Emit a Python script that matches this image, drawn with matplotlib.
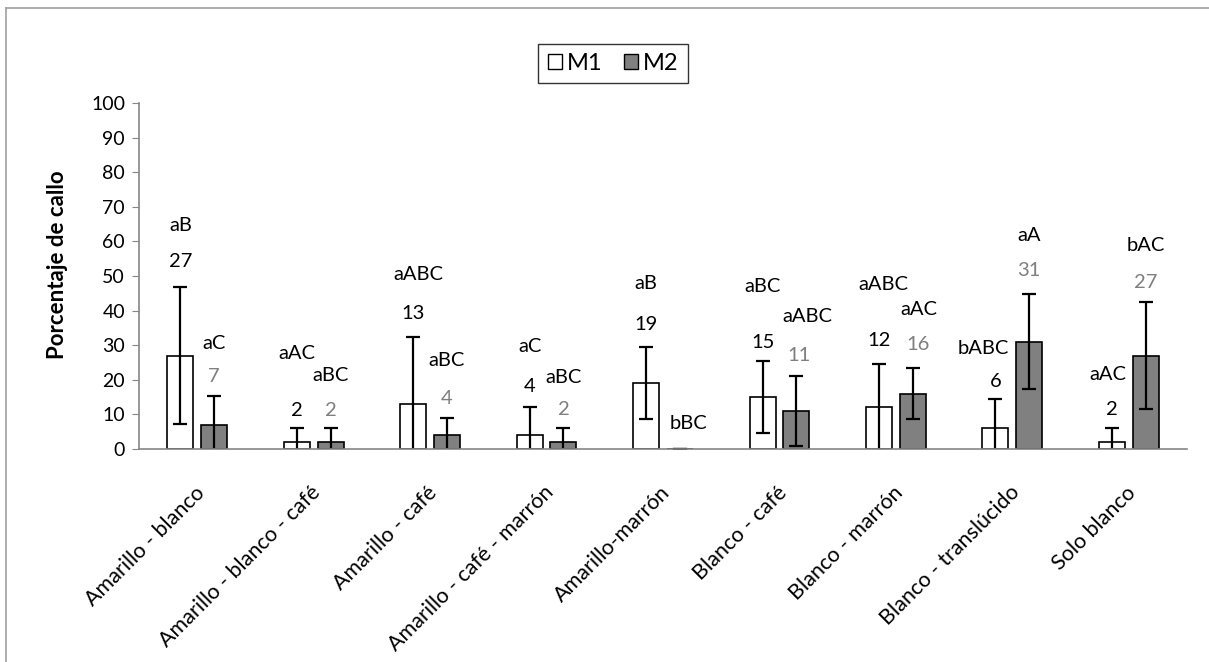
import matplotlib
matplotlib.use("Agg")
import matplotlib.pyplot as plt
from matplotlib.patches import Patch
from matplotlib.lines import Line2D
import matplotlib.transforms as mtransforms
import numpy as np

categories = ["Amarillo - blanco", "Amarillo - blanco - café", "Amarillo - café",
              "Amarillo - café - marrón", "Amarillo-marrón", "Blanco - café",
              "Blanco - marrón", "Blanco - translúcido", "Solo blanco"]
m1_values = [27, 2, 13, 4, 19, 15, 12, 6, 2]
m2_values = [7, 2, 4, 2, 0, 11, 16, 31, 27]
m1_err = [19.7, 4.2, 19.5, 8.2, 10.4, 10.3, 12.5, 8.4, 4.1]
m2_err = [8.3, 4.2, 5.0, 4.1, 0.0, 10.0, 7.4, 13.7, 15.4]
m1_letters = ["aB", "aAC", "aABC", "aC", "aB", "aBC", "aABC", "bABC", "aAC"]
m2_letters = ["aC", "aBC", "aBC", "aBC", "bBC", "aABC", "aAC", "aA", "bAC"]
yticks = [0, 10, 20, 30, 40, 50, 60, 70, 80, 90, 100]

# layout of the manually placed labels (data units / pixel offsets)
m1_num_y = [54.3, 11, 39.2, 18.2, 36.1, 30.8, 31.3, 19.5, 11.3]
m1_let_y = [64.5, 27.7, 50.3, 29.6, 47.9, 47.1, 47.6, 29.1, 21.4]
m2_num_y = [20.9, 11, 14.6, 11.3, None, 26.9, 30.1, 51.5, 48.2]
m2_let_y = [30.5, 21.1, 25.7, 20.6, 7.4, 38.2, 40.2, 61.8, 58.7]
m1_let_dx = [0, 0, 4.7, 0, 0, 0, 4, -12.5, -4]
m2_let_dx = [0, 0, 0, 0, 9, 11, 6, 0, 0]
m2_num_dx = [0, 0, 0, 0, 0, 3, 5, 0, 0]

FONT = ["Lato", "DejaVu Sans"]
plt.rcParams['font.family'] = FONT

W, H = 1209, 662
fig = plt.figure(figsize=(W / 100, H / 100), dpi=100)
ax = fig.add_axes([139 / W, (H - 449) / H, (1187 - 139) / W, (449 - 103) / H])

x = np.arange(len(categories))
bw = 0.223
off = 0.145
px = 9 / 1048.0  # data units per pixel along x

ax.bar(x - off, m1_values, bw, color="white", edgecolor="black", linewidth=1.2, zorder=2, label="M1")
ax.bar(x + off, m2_values, bw, color="#808080", edgecolor="black", linewidth=1.2, zorder=2, label="M2")
ax.errorbar(x - off, m1_values, yerr=m1_err, fmt="none", ecolor="black", elinewidth=1.6,
            capsize=4.8, capthick=1.6, zorder=3)
ax.errorbar(x + off, m2_values, yerr=m2_err, fmt="none", ecolor="black", elinewidth=1.6,
            capsize=4.8, capthick=1.6, zorder=3)

fs = 14.5
for i in range(len(categories)):
    ax.text(x[i] - off, m1_num_y[i], str(m1_values[i]), ha="center", va="center",
            fontsize=fs, color="black")
    ax.text(x[i] - off + m1_let_dx[i] * px, m1_let_y[i], m1_letters[i], ha="center",
            va="center", fontsize=fs, color="black")
    if m2_num_y[i] is not None:
        ax.text(x[i] + off + m2_num_dx[i] * px, m2_num_y[i], str(m2_values[i]), ha="center",
                va="center", fontsize=fs, color="#7f7f7f")
    ax.text(x[i] + off + m2_let_dx[i] * px, m2_let_y[i], m2_letters[i], ha="center",
            va="center", fontsize=fs, color="black")

ax.set_xlim(-0.5, len(categories) - 0.5)
ax.set_ylim(0, 100)
ax.set_yticks(yticks)
ax.tick_params(axis="y", direction="out", length=5, color="#868686", labelsize=14, pad=5)
ax.set_xticks(x)
ax.set_xticklabels(categories, rotation=45, ha="right", rotation_mode="anchor", fontsize=15.5)
ax.tick_params(axis="x", length=0, pad=24)
shift = mtransforms.ScaledTranslation(-3 / 100, 0, fig.dpi_scale_trans)
for lab in ax.get_xticklabels():
    lab.set_transform(lab.get_transform() + shift)
for s in ["top", "right"]:
    ax.spines[s].set_visible(False)
for s in ["left", "bottom"]:
    ax.spines[s].set_color("#868686")
    ax.spines[s].set_linewidth(1.2)
ax.spines["bottom"].set_zorder(4)

ax.set_ylabel("Porcentaje de callo", fontsize=16, fontweight="bold")
ax.yaxis.set_label_coords((68 - 139) / 1048, (449 - 265) / 346)

handles = [Patch(facecolor="white", edgecolor="black", linewidth=1.0, label="M1"),
           Patch(facecolor="#808080", edgecolor="black", linewidth=1.0, label="M2")]
leg = fig.legend(handles=handles, loc="center", bbox_to_anchor=(613 / W, 1 - 63.5 / H),
                 ncol=2, fontsize=17, frameon=True, fancybox=False, edgecolor="black",
                 handlelength=0.6, handleheight=0.6, handletextpad=0.2, columnspacing=0.9,
                 borderpad=0.4)
leg.get_frame().set_linewidth(1.0)

# outer chart border (top and left visible)
fig.add_artist(Line2D([6 / W, 1.0], [1 - 8 / H, 1 - 8 / H], color="#a0a0a0", lw=1.2,
                      transform=fig.transFigure))
fig.add_artist(Line2D([6 / W, 6 / W], [0, 1 - 8 / H], color="#a0a0a0", lw=1.2,
                      transform=fig.transFigure))

fig.savefig("out.png", dpi=100, facecolor="white")
